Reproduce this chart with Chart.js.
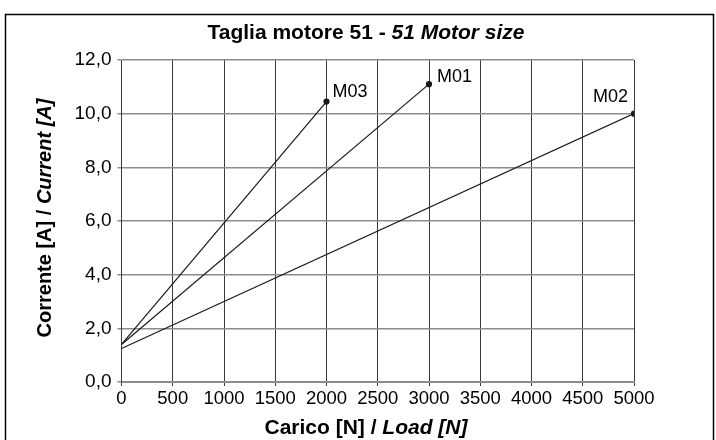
<!DOCTYPE html>
<html>
<head>
<meta charset="utf-8">
<script src="https://cdn.jsdelivr.net/npm/chart.js@4.4.1/dist/chart.umd.min.js"></script>
<style>
  html, body { margin: 0; padding: 0; background: #fff; }
  #wrap { position: relative; width: 716px; height: 440px; }
</style>
</head>
<body>
<div id="wrap"><canvas id="chart" width="716" height="440"></canvas></div>
<script>
// data
const seriesNames = ["M03", "M01", "M02"];
const m03Load = [0, 2000];
const m03Current = [1.4, 10.45];
const m01Load = [0, 3000];
const m01Current = [1.4, 11.1];
const m02Load = [0, 5000];
const m02Current = [1.25, 10.0];
const xTicks = [0, 500, 1000, 1500, 2000, 2500, 3000, 3500, 4000, 4500, 5000];
const yTicks = [0, 2, 4, 6, 8, 10, 12];

const FONT = "'Liberation Sans', Arial, sans-serif";

function pts(xs, ys) {
  return xs.map((x, i) => ({ x: x, y: ys[i] }));
}

function makeSet(name, xs, ys) {
  return {
    label: name,
    data: pts(xs, ys),
    borderColor: "#1a1a1a",
    backgroundColor: "#1a1a1a",
    borderWidth: 1.2,
    pointRadius: [0, 2.5],
    pointHoverRadius: 0,
    tension: 0
  };
}

// frame, title, axis titles and end labels (mixed bold / italic text)
const decor = {
  id: "decor",
  beforeDraw(chart) {
    const ctx = chart.ctx;
    ctx.save();
    ctx.strokeStyle = "#000";
    ctx.lineWidth = 1.5;
    ctx.strokeRect(5.5, 14.5, 708, 440);
    ctx.restore();
  },
  afterDraw(chart) {
    const ctx = chart.ctx;
    ctx.save();
    ctx.fillStyle = "#000";
    ctx.textBaseline = "middle";

    function mixed(parts, cx, cy) {
      let total = 0;
      parts.forEach(p => { ctx.font = p.font; p.w = ctx.measureText(p.text).width; total += p.w; });
      let x = cx - total / 2;
      ctx.textAlign = "left";
      parts.forEach(p => { ctx.font = p.font; ctx.fillText(p.text, x, cy); x += p.w; });
    }

    // title
    mixed([
      { text: "Taglia motore 51 - ", font: "bold 21px " + FONT },
      { text: "51 Motor size", font: "italic bold 21px " + FONT }
    ], 366, 33);

    // x axis title
    mixed([
      { text: "Carico [N] / ", font: "bold 21px " + FONT },
      { text: "Load [N]", font: "italic bold 21px " + FONT }
    ], 366, 428);

    // y axis title
    ctx.save();
    ctx.translate(45, 218);
    ctx.rotate(-Math.PI / 2);
    mixed([
      { text: "Corrente [A] / ", font: "bold 20px " + FONT },
      { text: "Current [A]", font: "italic bold 20px " + FONT }
    ], 0, 0);
    ctx.restore();

    // series end labels
    const offs = { M03: [6, -10, "left"], M01: [8, -7, "left"], M02: [-6, -17, "right"] };
    ctx.font = "18px " + FONT;
    chart.data.datasets.forEach((ds, i) => {
      const meta = chart.getDatasetMeta(i);
      const p = meta.data[meta.data.length - 1];
      const o = offs[ds.label];
      ctx.textAlign = o[2];
      ctx.fillText(ds.label, p.x + o[0], p.y + o[1]);
    });
    ctx.restore();
  }
};

new Chart(document.getElementById("chart"), {
  type: "line",
  data: {
    datasets: [
      makeSet(seriesNames[0], m03Load, m03Current),
      makeSet(seriesNames[1], m01Load, m01Current),
      makeSet(seriesNames[2], m02Load, m02Current)
    ]
  },
  options: {
    responsive: false,
    animation: false,
    layout: { padding: { left: 0, right: 82, top: 60, bottom: 0 } },
    plugins: {
      legend: { display: false },
      tooltip: { enabled: false },
      title: { display: false }
    },
    scales: {
      x: {
        type: "linear",
        min: 0,
        max: 5000,
        afterBuildTicks(scale) { scale.ticks = xTicks.map(v => ({ value: v })); },
        afterFit(scale) { scale.height = 58; },
        ticks: {
          color: "#000",
          font: { family: FONT, size: 18.5 },
          padding: 2,
          maxRotation: 0,
          autoSkip: false,
          callback: v => String(v)
        },
        grid: { color: "#3a3a3a", lineWidth: 1, tickLength: 4 },
        border: { color: "#8c8c8c", width: 2 }
      },
      y: {
        min: 0,
        max: 12,
        afterBuildTicks(scale) { scale.ticks = yTicks.map(v => ({ value: v })); },
        afterFit(scale) { scale.width = 121.5; },
        ticks: {
          color: "#000",
          font: { family: FONT, size: 19 },
          padding: 6,
          callback: v => v.toFixed(1).replace(".", ",")
        },
        grid: { color: "#8c8c8c", lineWidth: 1.5, tickLength: 4 },
        border: { color: "#3a3a3a", width: 1 }
      }
    }
  },
  plugins: [decor]
});
</script>
</body>
</html>
